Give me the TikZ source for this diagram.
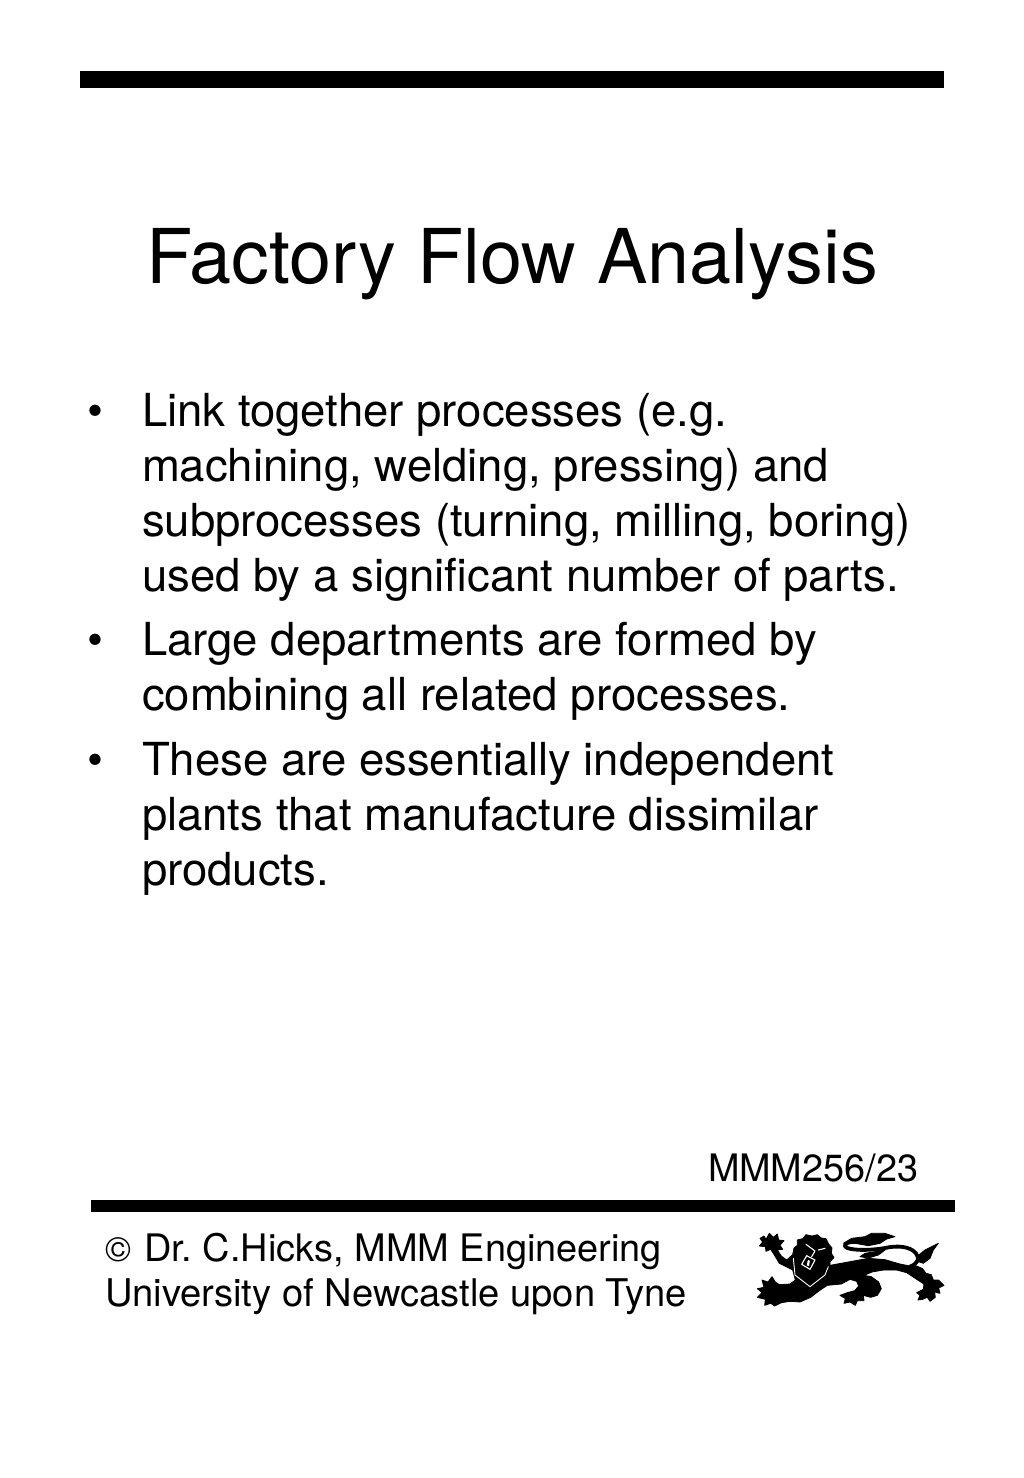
\documentclass[tikz,border=0pt]{standalone}
\usepackage{fontspec}
\setmainfont{TeX Gyre Heros}
\frenchspacing
\tikzset{txt/.style={anchor=base west,inner sep=0pt,outer sep=0pt,text=black},
 body/.style={txt,font=\fontsize{45.5}{45.5}\selectfont},
 foot/.style={txt,font=\fontsize{38}{38}\selectfont},
 lionf/.style={fill=black,draw=black,line width=0.8pt,line join=round},
 lionw/.style={draw=white,line join=round,line cap=round},
 lionk/.style={draw=black,line join=round,line cap=round}}
\begin{document}
\begin{tikzpicture}[x=1pt,y=-1pt]
\useasboundingbox (0,0) rectangle (1024,1478);
\fill[white] (0,0) rectangle (1024,1478);
\fill[black] (80,71) rectangle (944,88);
\fill[black] (91,1200) rectangle (955,1212);
\node[txt,font=\fontsize{75.6}{75.6}\selectfont] (title) at (146,283) {Factory Flow Analysis};
\foreach \n/\y in {b1/426,b2/655,b3/775.5}{\node[body] (\n) at (87,\y) {•};}
\foreach \n/\y/\s in {
l1/426/Link together processes (e.g.,
l2/481/{machining, welding, pressing) and},
l3/536/{subprocesses (turning, milling, boring)},
l4/591/used by a significant number of parts.,
l5/655/Large departments are formed by,
l6/710/combining all related processes.,
l7/775.5/These are essentially independent,
l8/830.5/plants that manufacture dissimilar,
l9/885.5/products.}{\node[body] (\n) at (142,\y) {\s};}
\node[txt,font=\fontsize{37.8}{37.8}\selectfont] (code) at (708,1181) {MMM256/23};
\node[txt,font=\fontsize{35}{35}\selectfont] (copy) at (105,1261) {©};
\node[txt,font=\fontsize{37.9}{37.9}\selectfont] (f1) at (144.5,1261) {Dr. C.Hicks, MMM Engineering};
\node[txt,font=\fontsize{38.15}{38.15}\selectfont] (f2) at (105,1306) {University of Newcastle upon Tyne};
% lion crest, traced in the 3x crop's coordinates
\begin{scope}[shift={(740,1220)},x=0.3333pt,y=-0.3333pt]
\path[lionf] (60,55) -- (72,48) -- (78,58) -- (88,40) -- (100,52) -- (112,42) -- (116,60) -- (132,62) -- (120,76) -- (128,88) -- (112,90)
 -- (124,108) -- (140,120) -- (158,104) -- (162,84) -- (172,76) -- (172,60) -- (188,56) -- (198,44) -- (216,48) -- (232,44) -- (244,54) -- (258,56) -- (266,72) -- (276,84) -- (274,100) -- (282,112) -- (270,126) -- (270,136)
 -- (330,125) -- (385,115) -- (435,119) -- (480,132) -- (510,138) -- (530,138) -- (548,146) -- (558,160) -- (574,164) -- (580,180) -- (596,180) -- (612,196) -- (596,204) -- (600,220) -- (584,216) -- (586,232) -- (570,244) -- (562,232) -- (548,238) -- (534,240) -- (540,226) -- (530,218) -- (550,208) -- (552,192)
 -- (530,178) -- (500,158) -- (470,150) -- (430,150) -- (396,156) -- (372,166) -- (394,170) -- (416,186) -- (424,206) -- (412,226) -- (392,232) -- (370,226) -- (372,242) -- (352,242) -- (346,256) -- (330,246) -- (312,250) -- (316,236) -- (300,226) -- (322,218) -- (344,212) -- (356,198)
 -- (350,184) -- (330,178) -- (304,192) -- (262,196) -- (238,212) -- (212,232) -- (180,246) -- (150,244) -- (124,248) -- (104,258) -- (92,250) -- (74,256) -- (76,238) -- (52,232) -- (66,218) -- (52,206) -- (72,202) -- (66,180) -- (84,186) -- (96,170) -- (106,186) -- (118,194) -- (150,192) -- (166,180)
 -- (158,150) -- (118,130) -- (100,100) -- (92,88) -- (78,94) -- (76,80) -- (58,78) -- (68,66) -- cycle;
% tail
\draw[lionk,line width=3.8pt] (350,66) .. controls (320,64) and (304,76) .. (322,84) .. controls (350,93) and (400,90) .. (435,84) .. controls (470,76) and (510,78) .. (528,100) .. controls (540,115) and (535,130) .. (510,140);
\path[lionf] (310,70) -- (335,55) -- (375,50) -- (395,40) -- (435,40) -- (465,50) -- (440,57) -- (420,70) -- (385,77) -- (345,70) -- cycle;
\path[lionf] (530,110) -- (555,90) -- (595,70) -- (580,90) -- (570,115) -- (550,130) -- (535,125) -- cycle;
\path[lionf] (360,110) -- (375,100) -- (435,90) -- (415,105) -- (385,114) -- cycle;
% face markings
\draw[lionw,line width=0.9pt] (160,115) -- (165,165) -- (210,200) -- (255,165) -- (265,140);
\draw[lionw,line width=1.1pt] (185,133) -- (200,107) -- (225,120) -- (210,148) -- cycle;
\fill[white] (206,124) circle[radius=4] (203,124) -- (209,124) -- (207,138) -- (200,136) -- cycle;
\draw[lionw,line width=1.1pt] (198,73) -- (225,93) -- (215,110) (235,90) -- (255,85);
\end{scope}
\end{tikzpicture}
\end{document}
